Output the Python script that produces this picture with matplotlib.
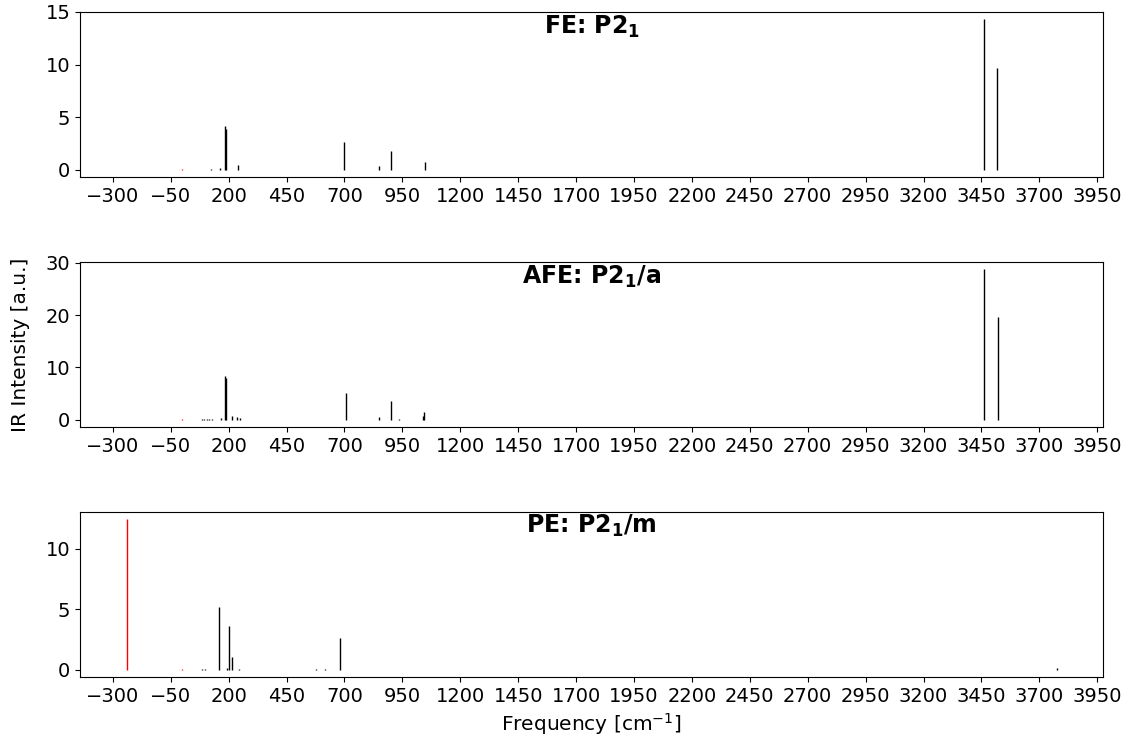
import numpy as np
import matplotlib
matplotlib.use("Agg")
import matplotlib.pyplot as plt

# IR modes per phase: frequency [cm^-1] and intensity [a.u.]
fe_freq = [-2, 123, 163, 184, 187, 239, 697, 848, 899, 1046, 3463, 3519]
fe_int = [0.05, 0.05, 0.2, 4.2, 3.9, 0.5, 2.6, 0.35, 1.8, 0.75, 14.3, 9.7]

afe_freq = [-2, 84, 95, 105, 115, 127, 167, 184, 189, 216, 235, 249,
            705, 849, 900, 935, 1040, 1043, 3462, 3520]
afe_int = [0.1, 0.15, 0.1, 0.15, 0.1, 0.15, 0.3, 8.3, 7.9, 0.7, 0.6, 0.4,
           5.2, 0.5, 3.6, 0.2, 0.7, 1.5, 28.8, 19.6]

pe_freq = [-241, -2, 84, 98, 160, 192, 202, 216, 246, 577, 617, 679, 3775]
pe_int = [12.45, 0.08, 0.05, 0.05, 5.22, 0.1, 3.6, 1.0, 0.08, 0.05, 0.05, 2.6, 0.1]

titles = ["FE: P2$_\\mathbf{1}$", "AFE: P2$_\\mathbf{1}$/a", "PE: P2$_\\mathbf{1}$/m"]
yticks = [[0, 5, 10, 15], [0, 10, 20, 30], [0, 5, 10]]
xticks = np.arange(-300, 4000, 250)

plt.rcParams["font.size"] = 14

fig, axes = plt.subplots(3, 1, figsize=(11.32, 7.4), dpi=100, sharex=True)
fig.subplots_adjust(left=0.0707, right=0.9746, top=0.984, bottom=0.085, hspace=0.51)

data = [(fe_freq, fe_int), (afe_freq, afe_int), (pe_freq, pe_int)]
for ax, (freq, inten), title, yt in zip(axes, data, titles, yticks):
    freq = np.asarray(freq, dtype=float)
    inten = np.asarray(inten, dtype=float)
    colors = ["red" if f < 0 else "black" for f in freq]
    ax.vlines(freq, 0, inten, colors=colors, linewidth=1.0)
    ax.set_yticks(yt)
    ax.set_xticks(xticks)
    ax.tick_params(labelbottom=True)
    ax.text(0.5, 0.99, title, transform=ax.transAxes, ha="center", va="top",
            fontsize=17, fontweight="bold")

axes[1].set_ylabel("IR Intensity [a.u.]", fontsize=14.5, labelpad=11)
axes[2].set_xlabel("Frequency [cm$^{-1}$]", fontsize=14.5)

fig.savefig("out.png", dpi=100)
